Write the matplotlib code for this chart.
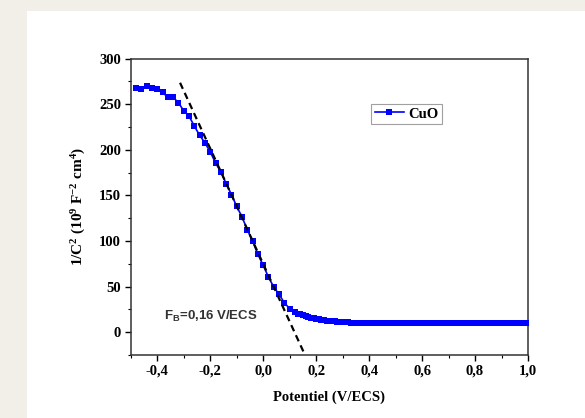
import matplotlib
matplotlib.use("Agg")
import matplotlib.pyplot as plt
from matplotlib.patches import Rectangle
from matplotlib.ticker import MultipleLocator, FuncFormatter

# Mott-Schottky data for CuO
potential = [-0.48, -0.46, -0.44, -0.42, -0.40, -0.38, -0.36, -0.34, -0.32, -0.30,
             -0.28, -0.26, -0.24, -0.22, -0.20, -0.18, -0.16, -0.14, -0.12, -0.10,
             -0.08, -0.06, -0.04, -0.02, 0.00, 0.02, 0.04, 0.06, 0.08, 0.10,
             0.12, 0.13, 0.14, 0.15, 0.16, 0.17, 0.18, 0.19, 0.20, 0.21,
             0.22, 0.23, 0.24, 0.25, 0.26, 0.27, 0.28, 0.29, 0.30, 0.31,
             0.32, 0.33, 0.34, 0.35, 0.36, 0.37, 0.38, 0.39, 0.40, 0.41,
             0.42, 0.43, 0.44, 0.45, 0.46, 0.47, 0.48, 0.49, 0.50, 0.51,
             0.52, 0.53, 0.54, 0.55, 0.56, 0.57, 0.58, 0.59, 0.60, 0.61,
             0.62, 0.63, 0.64, 0.65, 0.66, 0.67, 0.68, 0.69, 0.70, 0.71,
             0.72, 0.73, 0.74, 0.75, 0.76, 0.77, 0.78, 0.79, 0.80, 0.81,
             0.82, 0.83, 0.84, 0.85, 0.86, 0.87, 0.88, 0.89, 0.90, 0.91,
             0.92, 0.93, 0.94, 0.95, 0.96, 0.97, 0.98, 0.99, 1.00]
inv_c2 = [267.5, 266.4, 270.0, 267.5, 266.4, 263.0, 257.6, 257.6, 251.7, 242.9,
          237.0, 226.0, 216.0, 207.7, 197.8, 185.7, 175.8, 163.0, 151.0, 138.0,
          126.4, 112.5, 99.9, 85.4, 73.3, 60.4, 49.5, 41.4, 32.3, 25.7,
          22.0, 20.5, 19.5, 18.5, 17.6, 16.8, 16.0, 15.3, 14.7, 14.2,
          13.7, 13.2, 12.8, 12.4, 12.1, 11.8, 11.5, 11.3, 11.1, 10.9,
          10.7, 10.6, 10.4, 10.3, 10.2, 10.1, 10.0, 9.9, 10.0, 9.9,
          10.0, 10.1, 9.9, 10.0, 10.2, 10.0, 9.9, 10.1, 10.0, 10.2,
          10.1, 9.9, 10.0, 10.2, 10.0, 9.8, 10.0, 10.1, 9.9, 10.0,
          10.1, 10.2, 10.0, 9.9, 10.1, 10.3, 10.1, 9.9, 9.8, 9.9,
          10.0, 9.9, 10.0, 10.1, 9.9, 10.0, 10.1, 9.9, 10.0, 9.8,
          9.9, 10.0, 10.1, 10.0, 9.8, 9.9, 10.0, 10.1, 10.0, 9.9,
          10.1, 10.0, 9.9, 10.0, 10.1, 10.0, 9.9, 10.0, 10.0]

# linear extrapolation (dashed)
fit_x = [-0.314, 0.157]
fit_y = [273.6, -24.5]

xticks = [-0.4, -0.2, 0.0, 0.2, 0.4, 0.6, 0.8, 1.0]
yticks = [0, 50, 100, 150, 200, 250, 300]

plt.rcParams['font.family'] = 'Liberation Serif'
plt.rcParams['font.weight'] = 'bold'
plt.rcParams['mathtext.default'] = 'regular'

fig = plt.figure(figsize=(5.85, 4.18), dpi=100, facecolor='#f2efe9')
fig.patches.append(Rectangle((27 / 585, 0), 1, 1 - 10.5 / 418, transform=fig.transFigure,
                             facecolor='white', edgecolor='none', zorder=0))
ax = fig.add_axes([130.8 / 585, 1 - 355 / 418, 397.2 / 585, 296.3 / 418])
ax.set_zorder(2)

ax.plot(potential, inv_c2, color='#0000ff', marker='s', markersize=4.6, linewidth=1.2,
        markeredgewidth=0, label='CuO', zorder=3)
ax.plot(fit_x, fit_y, color='black', linestyle=(0, (3, 2)), linewidth=1.6, zorder=4)

ax.set_xlim(-0.5, 1.0)
ax.set_ylim(-25, 300)
ax.set_xticks(xticks)
ax.set_yticks(yticks)
ax.xaxis.set_minor_locator(MultipleLocator(0.1))
ax.yaxis.set_minor_locator(MultipleLocator(25))
ax.xaxis.set_major_formatter(FuncFormatter(lambda v, p: f"{v:.1f}".replace('.', ',')))
ax.tick_params(which='major', direction='out', length=4, width=1, labelsize=10.5, pad=3)
ax.tick_params(which='minor', direction='out', length=2.5, width=0.8)
ax.tick_params(top=False, right=False)
for s in ax.spines.values():
    s.set_linewidth(1.1)
    s.set_color('#333333')

ax.set_xlabel('Potentiel (V/ECS)', fontsize=10.5, fontweight='bold', labelpad=9)
ax.set_ylabel('1/C$^{2}$ (10$^{9}$ F$^{-2}$ cm$^{4}$)', fontsize=11, fontweight='bold', labelpad=8)

ax.text(-0.375, 17, 'F$_{B}$=0,16 V/ECS', family='Liberation Sans', fontsize=9.5,
        fontweight='bold', color='#333333', va='center', ha='left')

leg = ax.legend(loc='upper left', bbox_to_anchor=(0.605, 0.848), fontsize=10.5,
                frameon=True, fancybox=False, handlelength=2.0, handletextpad=0.3,
                borderpad=0.25, borderaxespad=0)
leg.get_frame().set_edgecolor('#888888')
leg.get_frame().set_linewidth(0.8)

fig.savefig('out.png', dpi=100, facecolor=fig.get_facecolor())
